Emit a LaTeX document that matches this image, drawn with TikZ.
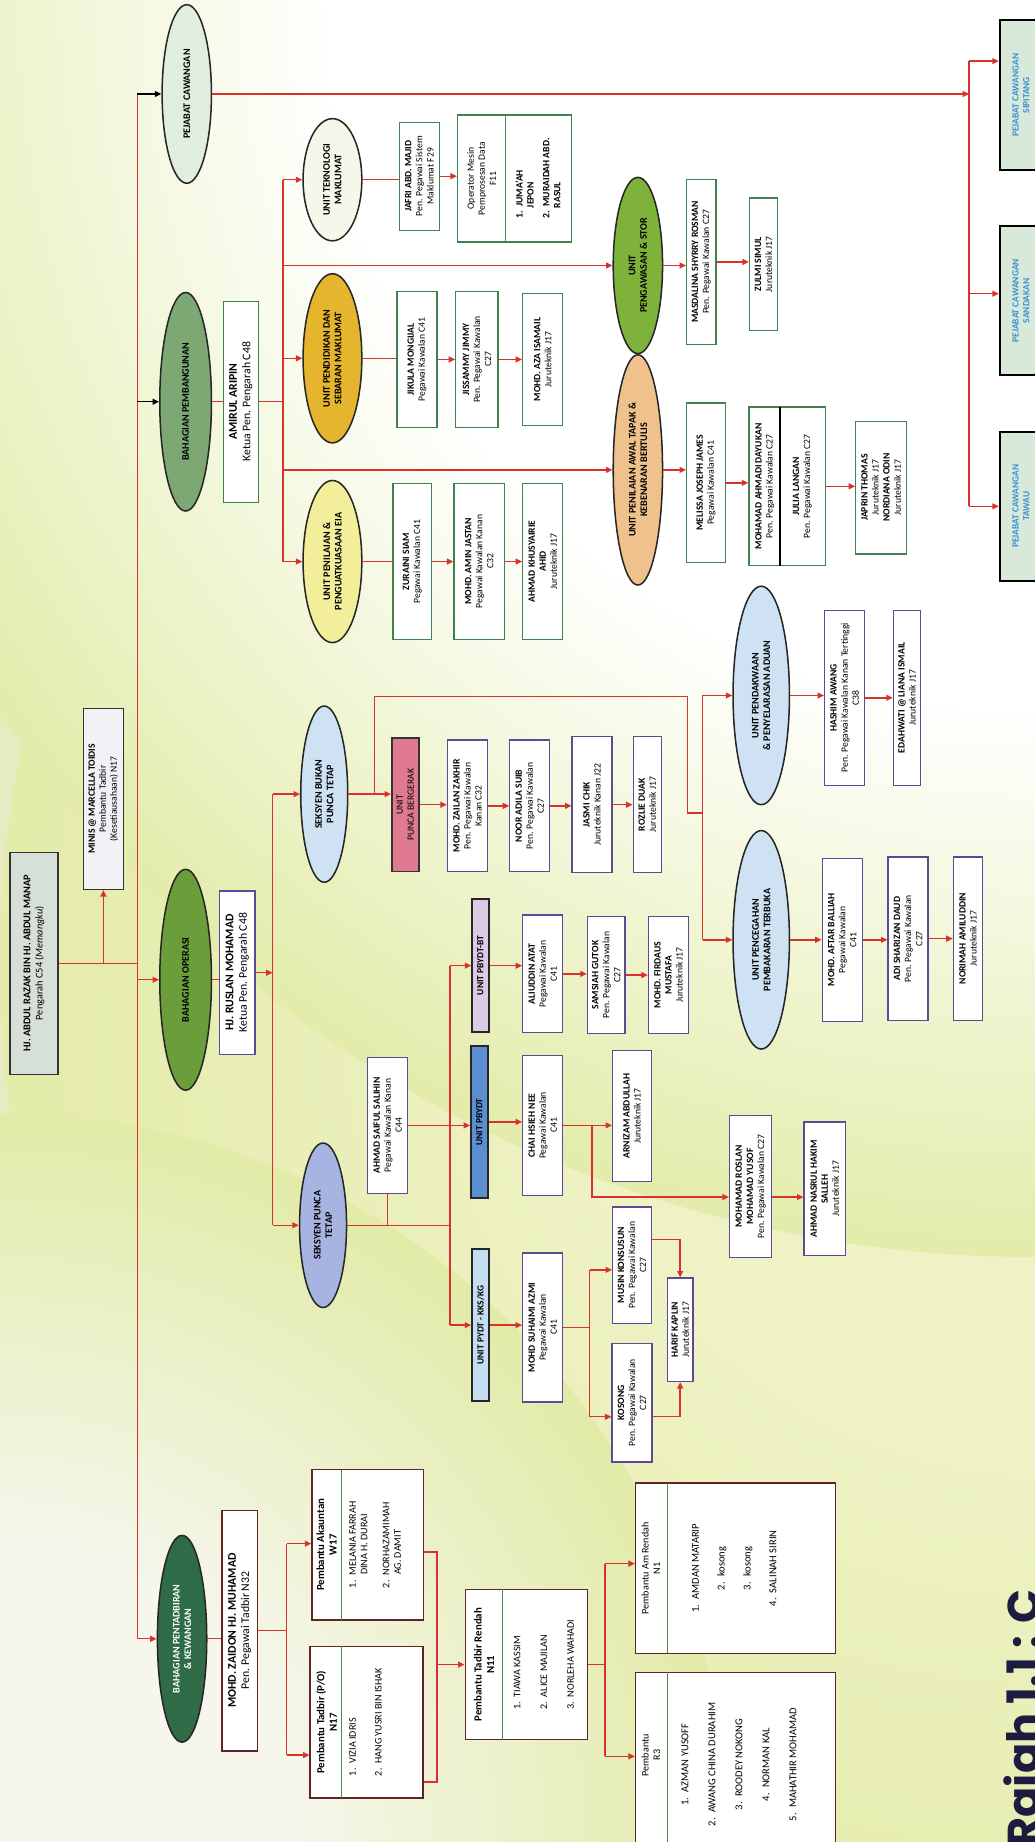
\documentclass[tikz,border=0pt]{standalone}
\usepackage{fontspec}
\setmainfont{Carlito}
\newfontfamily\capfont{Poppins}
\usetikzlibrary{shapes.geometric,arrows.meta}
\definecolor{bgc}{HTML}{E1EAA3}
\definecolor{wb}{HTML}{F6F6EC}
\definecolor{wb2}{HTML}{EDEFCF}
\definecolor{wb3}{HTML}{EEF2C4}
\definecolor{lb}{HTML}{E6EBC2}
\definecolor{myred}{HTML}{D8322D}
\definecolor{gbd}{HTML}{3F8050}
\definecolor{pbd}{HTML}{5A4B94}
\definecolor{mbd}{HTML}{5C2626}
\definecolor{dvg}{HTML}{4A8A4A}
\definecolor{capc}{HTML}{1C1C40}
\definecolor{pjt}{HTML}{3B8FD5}
\definecolor{headf}{HTML}{D6E0D8}
\definecolor{minf}{HTML}{F2F2F6}
\definecolor{pejf}{HTML}{E0EEDF}
\definecolor{pembf}{HTML}{7DA873}
\definecolor{operf}{HTML}{6B9E3A}
\definecolor{pentf}{HTML}{2E6B46}
\definecolor{tmf}{HTML}{F7F6EA}
\definecolor{pendf}{HTML}{E5B52E}
\definecolor{eiaf}{HTML}{F3EE9A}
\definecolor{storf}{HTML}{7FB23A}
\definecolor{awalf}{HTML}{EFC28D}
\definecolor{sbptf}{HTML}{CFE2F3}
\definecolor{sptf}{HTML}{A7B3E1}
\definecolor{puncaf}{HTML}{E07A90}
\definecolor{btf}{HTML}{DACAE6}
\definecolor{pbydtf}{HTML}{5B8FD2}
\definecolor{kksf}{HTML}{C3DDF1}
\definecolor{pjfill}{HTML}{D8E9DA}
\pgfdeclareradialshading{wfade}{\pgfpoint{0bp}{0bp}}{color(0bp)=(white); color(14bp)=(white); color(26bp)=(bgc); color(50bp)=(bgc)}
\pgfdeclareradialshading{lfade}{\pgfpoint{0bp}{0bp}}{color(0bp)=(wb); color(10bp)=(wb); color(26bp)=(bgc); color(50bp)=(bgc)}
\pgfdeclareradialshading{rfade}{\pgfpoint{0bp}{0bp}}{color(0bp)=(wb3); color(12bp)=(wb3); color(28bp)=(bgc); color(50bp)=(bgc)}
\newcommand\nm[1]{\textbf{#1}}
\newcommand\B[6]{\node[#1,minimum width=#5pt,minimum height=#4pt] (#2) at (#3) {#6};}
\tikzset{
  every node/.style={rotate=90,align=center,inner sep=1.2pt,font=\fontsize{8.2}{9.4}\selectfont},
  box/.style={draw=#1,fill=white,line width=1.1pt},
  gb/.style={box=gbd}, pb/.style={box=pbd}, mb/.style={box=mbd}, kb/.style={box=black!80},
  el/.style={ellipse,draw=black!85,line width=1.3pt,inner sep=0pt,font=\fontsize{8.6}{9.8}\selectfont\bfseries},
  ub/.style={draw=black!85,line width=1.7pt,inner sep=0pt,font=\fontsize{8}{9}\selectfont\bfseries},
  hd/.style={font=\fontsize{10}{11.4}\selectfont},
  pj/.style={draw=black,line width=1.6pt,fill=pjfill,text=pjt,font=\fontsize{8}{9.2}\selectfont\bfseries},
  ln/.style={draw=myred,line width=1.2pt},
  ar/.style={ln,-{Triangle[length=5.5pt,width=5pt]}},
  bar/.style={draw=black,line width=1.2pt,-{Triangle[length=5.5pt,width=5pt]}},
  hdr/.style={font=\fontsize{9.2}{10.6}\selectfont\bfseries},
  lst/.style={font=\fontsize{8.6}{9.8}\selectfont},
}
\begin{document}
\begin{tikzpicture}[x=1pt,y=-1pt]
\path[use as bounding box] (0,0) rectangle (881,1568);
\clip (0,0) rectangle (881,1568);
% background
\fill[bgc] (0,0) rectangle (881,1568);
\shade[left color=lb,right color=bgc] (0,0) rectangle (260,1568);
\shade[top color=wb2,bottom color=bgc] (0,0) rectangle (881,150);
\shade[shading=rfade] (900,820) circle (900pt);
\shade[shading=wfade] (881,0) circle (1070pt);
\shade[shading=lfade] (0,1568) circle (620pt);

% ---------- level 0
\B{kb,fill=headf,line width=1.3pt,font=\fontsize{8.8}{10.4}\selectfont}{head}{29,820}{41}{189}{\nm{HJ. ABDUL RAZAK BIN HJ. ABDUL MANAP}\\Pengarah C54 (\textit{Memangku})}
\B{kb,fill=minf,line width=1.3pt}{minis}{88,680}{34}{154}{\nm{MINIS @ MARCELLA TOIDIS}\\Pembantu Tadbir\\(Kesetiausahaan) N17}

% ---------- level 1
\B{el,fill=pejf}{pej}{159,80}{42}{152}{PEJABAT CAWANGAN}
\B{el,fill=pembf}{pemb}{158,342}{44}{186}{BAHAGIAN PEMBANGUNAN}
\B{el,fill=operf}{oper}{158,834}{44}{188}{BAHAGIAN OPERASI}
\B{el,fill=pentf,text=white}{pent}{155,1395}{42}{176}{BAHAGIAN PENTADBIRAN\\\& KEWANGAN}

% ---------- heads
\B{gb,hd}{amirul}{205,342}{30}{171}{\nm{AMIRUL ARIPIN}\\Ketua Pen. Pengarah C48}
\B{pb,hd}{ruslan}{202,828}{30}{139}{\nm{HJ. RUSLAN MOHAMAD}\\Ketua Pen. Pengarah C48}
\B{mb,hd}{zaidon}{204,1388}{30}{205}{\nm{MOHD. ZAIDON HJ. MUHAMAD}\\Pen. Pegawai Tadbir N32}

% ---------- Pembangunan
\B{el,fill=tmf}{tm}{283,153}{50}{104}{UNIT TEKNOLOGI\\MAKLUMAT}
\B{el,fill=pendf}{pend}{283,305}{50}{144}{UNIT PENDIDIKAN DAN\\SEBARAN MAKLUMAT}
\B{el,fill=eiaf}{eia}{283,478}{50}{138}{UNIT PENILAIAN \&\\PENGUATKUASAAN EIA}
\B{gb}{jafri}{357,150}{34}{92}{\nm{JAFRI ABD. MAJID}\\Pen. Pegawai Sistem\\Maklumat F29}
\B{gb}{opb}{438,152}{97}{108}{}
\draw[dvg,line width=1pt] (430,98) -- (430,206);
\node at (410,152) {Operator Mesin\\Pemprosesan Data\\F11};
\node[align=left] at (458,152) {\nm{1.\enspace JUMA'AH}\\\nm{\hspace*{1.1em}JEPON}\\[4pt]\nm{2.\enspace MURAIDAH ABD.}\\\nm{\hspace*{1.1em}RASUL}};
\B{gb}{jikula}{355,306}{34}{116}{\nm{JIKULA MONGIJAL}\\Pegawai Kawalan C41}
\B{gb}{jissammy}{406,306}{36}{116}{\nm{JISSAMMY JIMMY}\\Pen. Pegawai Kawalan\\C27}
\B{gb}{aza}{462,306}{34}{112}{\nm{MOHD. AZA ISAMAIL}\\Juruteknik J17}
\B{gb}{zuraini}{351,478}{33}{133}{\nm{ZURAINI SIAM}\\Pegawai Kawalan C41}
\B{gb}{amin}{408,478}{43}{133}{\nm{MOHD. AMIN JASTAN}\\Pegawai Kawalan Kanan\\C32}
\B{gb}{ahmadk}{462,478}{34}{133}{\nm{AHMAD KHUSYAIRIE}\\\nm{AHID}\\Juruteknik J17}

\B{el,fill=storf}{stor}{543,226}{42}{150}{UNIT\\PENGAWASAN \& STOR}
\B{el,fill=awalf}{awal}{543,400}{42}{196}{UNIT PENILAIAN AWAL TAPAK \&\\KEBENARAN BERTULIS}
\B{gb}{masd}{597,223}{25}{140}{\nm{MASDALINA SHYRRY ROSMAN}\\Pen. Pegawai Kawalan C27}
\B{gb}{zulmi}{650,225}{24}{113}{\nm{ZULMI SIMUL}\\Juruteknik J17}
\B{gb}{melissa}{601,411}{33}{136}{\nm{MELISSA JOSEPH JAMES}\\Pegawai Kawalan C41}
\B{gb}{ahm}{670,414}{65}{135}{}
\draw[black,line width=1.6pt] (664,346.5) -- (664,481.5);
\node at (651,414) {\nm{MOHAMAD AHMADI DAYUKAN}\\Pen. Pegawai Kawalan C27};
\node at (683,414) {\nm{JULIA LANGAN}\\Pen. Pegawai Kawalan C27};
\B{gb}{japrin}{750,415}{43}{113}{\nm{JAPRIN THOMAS}\\Juruteknik J17\\\nm{NORDIANA ODIN}\\Juruteknik J17}

\B{pj}{sip}{869,81}{36}{128}{PEJABAT CAWANGAN\\SIPITANG}
\B{pj}{sand}{869,256}{36}{127}{PEJABAT CAWANGAN\\SANDAKAN}
\B{pj}{taw}{869,431}{36}{127}{PEJABAT CAWANGAN\\TAWAU}

% ---------- Operasi
\B{el,fill=sbptf}{sbpt}{276,676}{40}{150}{SEKSYEN BUKAN\\PUNCA TETAP}
\B{el,fill=sptf}{spt}{275,1043}{40}{140}{SEKSYEN PUNCA\\TETAP}
\B{kb,fill=puncaf,line width=1.3pt}{punca}{345,685}{23}{114}{UNIT\\PUNCA BERGERAK}
\B{pb}{zailan}{398,686}{34}{112}{\nm{MOHD. ZAILAN ZAKHIR}\\Pen. Pegawai Kawalan\\Kanan C32}
\B{pb}{noor}{451,686}{34}{112}{\nm{NOOR ADILA SUIB}\\Pen. Pegawai Kawalan\\C27}
\B{pb}{jasmi}{504,685}{34}{116}{\nm{JASMI CHIK}\\Juruteknik Kanan J22}
\B{pb}{roslie}{551,685}{24}{116}{\nm{ROZLIE DUAK}\\Juruteknik J17}
\B{el,fill=sbptf}{pdk}{648,592}{48}{186}{UNIT PENDAKWAAN\\\& PENYELARASAN ADUAN}
\B{el,fill=sbptf}{pcg}{648,800}{48}{186}{UNIT PENCEGAHAN\\PEMBAKARAN TERBUKA}
\B{pb}{hashim}{719,594}{34}{149}{\nm{HASHIM AWANG}\\Pen. Pegawai Kawalan Kanan Tertinggi\\C38}
\B{pb}{edah}{772,594}{23}{149}{\nm{EDAHWATI @ LIANA ISMAIL}\\Juruteknik J17}
\B{pb}{aftar}{717,800}{34}{139}{\nm{MOHD. AFTAR BALLIAH}\\Pegawai Kawalan\\C41}
\B{pb}{adi}{773,799}{34}{139}{\nm{ADI SHARIZAN DAUD}\\Pen. Pegawai Kawalan\\C27}
\B{pb}{norimah}{824,799}{25}{139}{\nm{NORIMAH AMILUDDIN}\\Juruteknik J17}

\B{pb}{saiful}{330,958}{34}{116}{\nm{AHMAD SAIFUL SALIHIN}\\Pegawai Kawalan Kanan\\C44}
\B{ub,fill=btf}{pbydtbt}{409,822}{14}{113}{UNIT PBYDT-BT}
\B{ub,fill=pbydtf}{pbydt}{408,955}{14}{129}{UNIT PBYDT}
\B{ub,fill=kksf}{kks}{409,1128}{14}{129}{UNIT PYDT - KKS/KG}
\B{pb}{aliuddin}{462,829}{34}{100}{\nm{ALIUDDIN ATAT}\\Pegawai Kawalan\\C41}
\B{pb}{samsiah}{516,830}{32}{100}{\nm{SAMSIAH GUTOK}\\Pen. Pegawai Kawalan\\C27}
\B{pb}{firdaus}{569,830}{34}{100}{\nm{MOHD. FIRDAUS}\\\nm{MUSTAFA}\\Juruteknik J17}
\B{pb}{chai}{462,958}{34}{119}{\nm{CHAI HSIEH NEE}\\Pegawai Kawalan\\C41}
\B{pb}{arnizam}{538,950}{33}{112}{\nm{ARNIZAM ABDULLAH}\\Juruteknik J17}
\B{pb}{roslan}{639,1010}{36}{121}{\nm{MOHAMAD ROSLAN}\\\nm{MOHAMAD YUSOF}\\Pen. Pegawai Kawalan C27}
\B{pb}{nasrul}{702,1012}{35}{114}{\nm{AHMAD NASRUL HAKIM}\\\nm{SALLEH}\\Juruteknik J17}
\B{pb}{suhaimi}{462,1130}{34}{127}{\nm{MOHD SUHAIMI AZMI}\\Pegawai Kawalan\\C41}
\B{pb}{musin}{538,1077}{33}{99}{\nm{MUSIN KONSUSUN}\\Pen. Pegawai Kawalan\\C27}
\B{pb}{kosong}{538,1194}{34}{101}{\nm{KOSONG}\\Pen. Pegawai Kawalan\\C27}
\B{pb}{harif}{579,1132}{22}{88}{\nm{HARIF KAPLIN}\\Juruteknik J17}

% ---------- Pentadbiran
\B{mb}{akaun}{313,1315}{95}{128}{}
\draw[dvg,line width=1pt] (291,1251) -- (291,1379);
\node[hdr] at (278,1315) {Pembantu Akauntan\\W17};
\node[lst,align=left,anchor=north] at (296,1315) {1.\enspace MELANIA FARRAH\\\hspace*{1.3em}DINA H. DURAI\\[9pt]2.\enspace NORHAZAMIMAH\\\hspace*{1.3em}AG. DAMIT};
\B{mb}{po}{312,1466}{96}{129}{}
\draw[dvg,line width=1pt] (291,1401.5) -- (291,1530.5);
\node[hdr] at (278,1466) {Pembantu Tadbir (P/O)\\N17};
\node[lst,align=left,anchor=north] at (296,1466) {1.\enspace VIZIA IDRIS\\[12pt]2.\enspace HANG YUSRI BIN ISHAK};
\B{mb}{rendah}{448,1417}{104}{128}{}
\draw[dvg,line width=1pt] (428,1353) -- (428,1481);
\node[hdr] at (412,1417) {Pembantu Tadbir Rendah\\N11};
\node[lst,align=left] at (463,1417) {1.\enspace TIAWA KASSIM\\[13pt]2.\enspace ALICE MAJILAN\\[13pt]3.\enspace NORLEHA WAHADI};
\B{mb}{amr}{626,1335}{170}{145}{}
\draw[dvg,line width=1pt] (568,1262.5) -- (568,1407.5);
\node[lst] at (554,1335) {Pembantu Am Rendah\\N1};
\node[font=\fontsize{9}{10}\selectfont] at (625,1335) {1.\enspace AMDAN MATARIP\\[12pt]2.\enspace kosong\\[12pt]3.\enspace kosong\\[12pt]4.\enspace SALINAH SIRIN};
\B{mb}{r3}{626,1502}{170}{157}{}
\draw[dvg,line width=1pt] (568,1423.5) -- (568,1580.5);
\node[lst] at (554,1494) {Pembantu\\R3};
\node[font=\fontsize{9}{10}\selectfont] at (629,1502) {1.\enspace AZMAN YUSOFF\\[13pt]2.\enspace AWANG CHINA DURAHIM\\[13pt]3.\enspace ROODEY NOKONG\\[13pt]4.\enspace NORMAN KAL\\[13pt]5.\enspace MAHATHIR MOHAMAD};

% caption (cut by page edge)
\node[anchor=base west,inner sep=0pt,text=capc,font=\capfont\bfseries\fontsize{38}{40}\selectfont] (cap) at (885,1572) {Rajah 1.1 : C};

% ---------- connectors: top
\coordinate (sx) at (117,0);
\draw[ln] (head.south) -- (head.south -| sx);
\draw[ar] (head.south -| minis.west) -- (minis.west);
\draw[ln] (pej.north -| sx) -- (pent.north -| sx);
\draw[bar] (pej.north -| sx) -- (pej.north);
\draw[bar] (pemb.north -| sx) -- (pemb.north);
\draw[ar] (oper.north -| sx) -- (oper.north);
\draw[ar] (pent.north -| sx) -- (pent.north);

% Pejabat cawangan
\coordinate (pvx) at (825,0);
\coordinate (pv1) at (825,52);
\coordinate (pv2) at (825,250);
\coordinate (pv3) at (825,431);
\draw[ar] (pej.south) -- (pej.south -| pvx);
\draw[ln] (pv1) -- (pv3);
\draw[ar] (pv1) -- (pv1 -| sip.north);
\draw[ar] (pv2) -- (pv2 -| sand.north);
\draw[ar] (pv3) -- (pv3 -| taw.north);

% Pembangunan
\coordinate (bx) at (241,0);
\draw[ln] (pemb.south) -- (pemb.south -| amirul.north);
\draw[ln] (amirul.south) -- (amirul.south -| bx);
\draw[ln] (tm.north -| bx) -- (eia.north -| bx);
\foreach \n in {tm,pend,eia,stor,awal} \draw[ar] (\n.north -| bx) -- (\n.north);
\draw[ln] (tm.south) -- (tm.south -| jafri.north);
\draw[ln] (pend.south) -- (pend.south -| jikula.north);
\draw[ln] (eia.south) -- (eia.south -| zuraini.north);
\foreach \a/\b in {jafri/opb,jikula/jissammy,jissammy/aza,zuraini/amin,amin/ahmadk,stor/masd,masd/zulmi,awal/melissa,melissa/ahm,ahm/japrin}
  \draw[ar] (\a.south) -- (\a.south -| \b.north);

% Operasi
\coordinate (ox) at (232,0);
\draw[ln] (oper.south) -- (oper.south -| ruslan.north);
\draw[ar] (ruslan.south) -- (ruslan.south -| ox);
\draw[ln] (sbpt.north -| ox) -- (spt.north -| ox);
\draw[ar] (sbpt.north -| ox) -- (sbpt.north);
\draw[ar] (spt.north -| ox) -- (spt.north);
\coordinate (j1) at (319,593);
\coordinate (j2) at (585,593);
\coordinate (j3) at (585,692);
\coordinate (j4) at (598,692);
\coordinate (kx) at (598,0);
\draw[ln] (sbpt.south -| j1) -- (j1) -- (j2) -- (j3) -- (j4);
\draw[ln] (pdk.north -| kx) -- (pcg.north -| kx);
\draw[ar] (pdk.north -| kx) -- (pdk.north);
\draw[ar] (pcg.north -| kx) -- (pcg.north);
\foreach \a/\b in {sbpt/punca,punca/zailan,zailan/noor,noor/jasmi,jasmi/roslie,pdk/hashim,hashim/edah,pcg/aftar,aftar/adi,adi/norimah}
  \draw[ar] (\a.south) -- (\a.south -| \b.north);

% Punca tetap
\coordinate (tx) at (383,0);
\draw[ln] (spt.south) -- (spt.south -| tx);
\draw[ln] (saiful.west) -- (saiful.west |- spt.south);
\draw[ln] (pbydtbt.north -| tx) -- (kks.north -| tx);
\draw[ar] (pbydtbt.north -| tx) -- (pbydtbt.north);
\draw[ar] (kks.north -| tx) -- (kks.north);
\draw[ar] (saiful.south) -- (saiful.south -| pbydt.north);
\foreach \a/\b in {pbydtbt/aliuddin,aliuddin/samsiah,samsiah/firdaus,pbydt/chai,chai/arnizam,kks/suhaimi}
  \draw[ar] (\a.south) -- (\a.south -| \b.north);
\coordinate (cx) at (504,0);
\coordinate (c2) at (504,1019);
\draw[ar] (chai.south -| cx) -- (c2) -- (c2 -| roslan.north);
\draw[ar] (c2 -| roslan.south) -- (c2 -| nasrul.north);
\coordinate (m1) at (502,1081);
\coordinate (m2) at (502,1206);
\coordinate (h1) at (0,1055);
\draw[ln] (suhaimi.south) -- (suhaimi.south -| m1);
\draw[ln] (m1) -- (m2);
\draw[ar] (m1) -- (m1 -| musin.north);
\draw[ar] (m2) -- (m2 -| kosong.north);
\draw[ar] (musin.south |- h1) -| (harif.east);
\draw[ar] (kosong.south |- m2) -| (harif.west);

% Pentadbiran
\coordinate (zx) at (244,0);
\coordinate (z1) at (244,1314);
\coordinate (z2) at (244,1494);
\draw[ln] (pent.south) -- (pent.south -| zaidon.north);
\draw[ln] (zaidon.south) -- (zaidon.south -| zx);
\draw[ln] (z1) -- (z2);
\draw[ar] (z1) -- (z1 -| akaun.north);
\draw[ar] (z2) -- (z2 -| po.north);
\coordinate (r1) at (372,1321);
\coordinate (r2) at (372,1517);
\draw[ln] (r1 -| akaun.south) -- (r1) -- (r2) -- (r2 -| po.south);
\draw[ar] (rendah.north -| r1) -- (rendah.north);
\coordinate (q1) at (515,1331);
\coordinate (q2) at (515,1495);
\draw[ln] (rendah.south) -- (rendah.south -| q1);
\draw[ln] (q1) -- (q2);
\draw[ar] (q1) -- (q1 -| amr.north);
\draw[ar] (q2) -- (q2 -| r3.north);
\end{tikzpicture}
\end{document}
